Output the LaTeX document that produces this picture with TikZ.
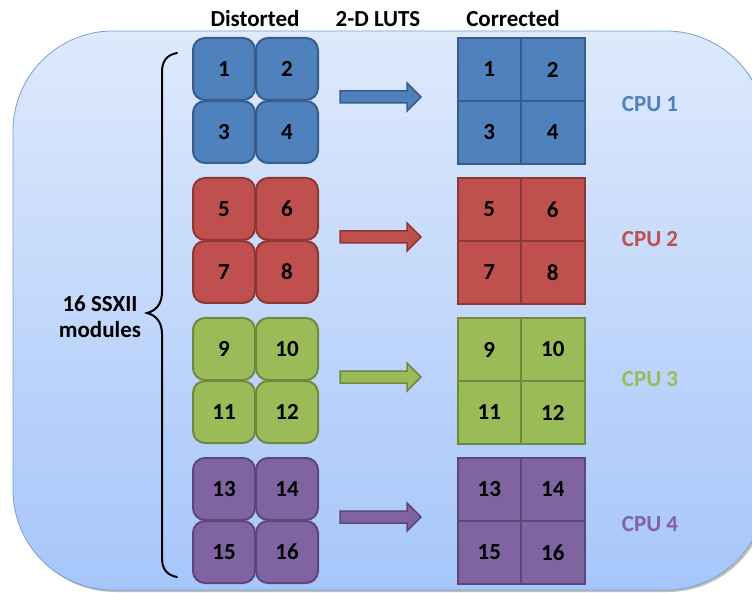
\documentclass[tikz,border=0pt]{standalone}
\usepackage{fontspec}
\setmainfont{Carlito}
\definecolor{bgtop}{RGB}{222,233,252}
\definecolor{bgbot}{RGB}{166,198,250}
\definecolor{bgline}{RGB}{120,160,212}
\definecolor{fblue}{RGB}{79,129,189}
\definecolor{lblue}{RGB}{56,93,138}
\definecolor{fred}{RGB}{192,80,77}
\definecolor{lred}{RGB}{140,56,54}
\definecolor{fgreen}{RGB}{155,187,89}
\definecolor{lgreen}{RGB}{113,137,63}
\definecolor{fpurple}{RGB}{128,100,162}
\definecolor{lpurple}{RGB}{92,71,118}
\tikzset{
  txt/.style={font=\fontsize{23}{27}\selectfont\bfseries, text=black, inner sep=0pt},
  dtile/.style={txt, minimum width=62pt, minimum height=62pt, rounded corners=12pt, line width=2pt},
  ctile/.style={txt, minimum width=63.5pt, minimum height=63pt, line width=2pt},
  cpulabel/.style={font=\fontsize{23}{27}\selectfont\bfseries, inner sep=0pt},
  brace/.style={line width=2pt, line cap=round, black},
  blockarrow/.style={line width=1.5pt, line join=miter}
}
\begin{document}
\begin{tikzpicture}[x=1pt,y=-1pt]
\useasboundingbox (0,0) rectangle (752,593);
\fill[white] (0,0) rectangle (752,593);
\begin{scope}
\clip (0,0) rectangle (752,593);
\fill[black!25, rounded corners=100pt] (15,33) rectangle (768,592);
\shade[top color=bgtop, bottom color=bgbot, draw=bgline, line width=0.8pt, rounded corners=100pt] (13,31) rectangle (766,590);
\end{scope}
% headers
\node[txt] (hd) at (255,19) {Distorted};
\node[txt] (hl) at (378,19) {2-D LUTS};
\node[txt] (hc) at (513,19) {Corrected};
% groups
\foreach \g/\f/\l/\a/\b/\c/\d/\cy in {0/fblue/lblue/1/2/3/4/104, 1/fred/lred/5/6/7/8/239, 2/fgreen/lgreen/9/10/11/12/379, 3/fpurple/lpurple/13/14/15/16/524}{
  \pgfmathsetmacro{\yy}{38+140*\g}
  % distorted
  \node[dtile, fill=\f, draw=\l] (d\a) at (224,\yy+31) {\a};
  \node[dtile, fill=\f, draw=\l] (d\b) at (287,\yy+31) {\b};
  \node[dtile, fill=\f, draw=\l] (d\c) at (224,\yy+94) {\c};
  \node[dtile, fill=\f, draw=\l] (d\d) at (287,\yy+94) {\d};
  % corrected
  \node[ctile, fill=\f, draw=\l] (c\a) at (489.25,\yy+31.5) {\a};
  \node[ctile, fill=\f, draw=\l] (c\b) at (552.75,\yy+31.5) {\b};
  \node[ctile, fill=\f, draw=\l] (c\c) at (489.25,\yy+94.5) {\c};
  \node[ctile, fill=\f, draw=\l] (c\d) at (552.75,\yy+94.5) {\d};
  % arrow
  \coordinate (as\g) at (340,\yy+59);
  \draw[blockarrow, fill=\f, draw=\l] (as\g) ++(0,-6) -- ++(67,0) -- ++(0,-8) -- ++(14,14) -- ++(-14,14) -- ++(0,-8) -- ++(-67,0) -- cycle;
  % cpu label
  \node[cpulabel, text=\f] (cpu\g) at (650,\cy) {CPU \the\numexpr\g+1\relax};
}
% brace
\coordinate (bt) at (177,53);
\coordinate (bm) at (147,313);
\coordinate (bb) at (177,577);
\draw[brace] (bt) .. controls (166,55) and (162,62) .. (162,72) -- (162,292)
  .. controls (162,305) and (155,311) .. (bm)
  .. controls (155,315) and (162,321) .. (162,334) -- (162,558)
  .. controls (162,568) and (166,575) .. (bb);
\node[txt, align=center, font=\fontsize{23}{26}\selectfont\bfseries] (lab) at (100,317) {16 SSXII\\modules};
\end{tikzpicture}
\end{document}
